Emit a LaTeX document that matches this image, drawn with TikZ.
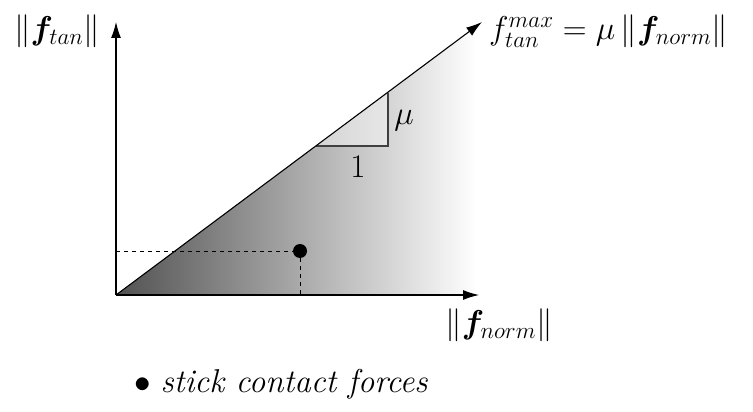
\documentclass[tikz,border=0pt]{standalone}
\usepackage{fix-cm}
\usepackage{amsmath,bm}
\usetikzlibrary{arrows.meta}
\begin{document}
\begin{tikzpicture}[x=1pt,y=-1pt,
  axis/.style={line width=1.1pt,-{Latex[length=16pt,width=10pt]}},
  lbl/.style={font=\fontsize{33}{38}\selectfont,inner sep=0pt},
  dashline/.style={line width=1pt,dash pattern=on 4pt off 4pt}]
\useasboundingbox (0,0) rectangle (753,412);
\coordinate (O) at (116,295);
\coordinate (Y) at (116,22);
\coordinate (X) at (479,295);
\coordinate (T) at (482,22);
\coordinate (E) at (477,26);
\coordinate (R) at (477,295);
% gradient region
\shade[left color=black!68,right color=white] (O) -- (E) -- (R) -- cycle;
% small slope triangle
\coordinate (A) at (316,146);
\coordinate (B) at (388,146);
\coordinate (C) at (388,93);
\fill[white,fill opacity=0.45] (A) -- (B) -- (C) -- cycle;
\draw[line width=1.3pt,black!75] (A) -- (B) -- (C);
% dot and dashed guides
\node[circle,fill=black,minimum size=14pt,inner sep=0pt] (P) at (300,251) {};
\coordinate (Py) at (116,251);
\coordinate (Px) at (300,295);
\draw[dashline] (Py) -- (P);
\draw[dashline] (P) -- (Px);
% axes
\draw[axis] (O) -- (Y);
\draw[axis] (O) -- (X);
\draw[axis] (O) -- (T);
% labels
\node[lbl] (ly) at (57,31) {$\|\bm{f}_{tan}\|$};
\node[lbl,anchor=west] (lt) at (489,31) {$f_{tan}^{max}=\mu\,\|\bm{f}_{norm}\|$};
\node[lbl] (lx) at (499,325) {$\|\bm{f}_{norm}\|$};
\node[lbl] (lmu) at (404,121) {$\mu$};
\node[lbl] (l1) at (358,167) {$1$};
\node[lbl,anchor=west] (leg) at (134,384) {$\bullet$ \textit{stick contact forces}};
\end{tikzpicture}
\end{document}
